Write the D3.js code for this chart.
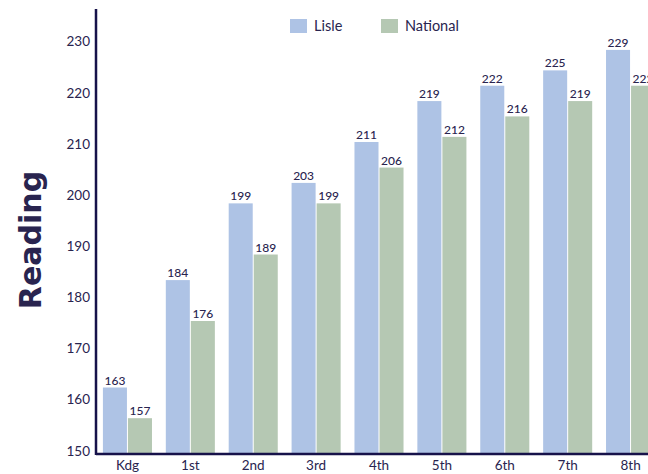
<!DOCTYPE html>
<html>
<head>
<meta charset="utf-8">
<script src="https://cdn.jsdelivr.net/npm/d3@7"></script>
<style>
	body { margin: 0; background: #fff; }
	text { font-family: Lato, "Open Sans", sans-serif; fill: #29244f; }
</style>
</head>
<body>
<script>
var grades = ["Kdg", "1st", "2nd", "3rd", "4th", "5th", "6th", "7th", "8th"];
var series = ["Lisle", "National"];
var lisle = [163, 184, 199, 203, 211, 219, 222, 225, 229];
var national = [157, 176, 189, 199, 206, 212, 216, 219, 222];
var yTicks = [150, 160, 170, 180, 190, 200, 210, 220, 230];
var colors = ["#aec3e5", "#b5c8b3"];

function main(){
	var w = 648;
	var h = 474;
	var left = 96;
	var bottom = 454;

	var svg = d3.select("body")
				.append("svg")
				.attr("width", w)
				.attr("height", h);

	var yScale = d3.scaleLinear()
					.domain([150, 237])
					.range([bottom, 9]);

	var xScale = d3.scaleBand()
					.domain(grades)
					.range([left, 662])
					.paddingInner(0.22)
					.paddingOuter(0.11);

	var xInner = d3.scaleBand()
					.domain(series)
					.range([0, xScale.bandwidth()])
					.paddingInner(0.04);

	var rows = grades.map(function(g, i){
		return {grade: g, values: [lisle[i], national[i]]};
	});

	var groups = svg.selectAll(".grp")
			.data(rows)
			.enter()
			.append("g")
			.attr("class", "grp")
			.attr("transform", function(d){ return "translate(" + xScale(d.grade) + ",0)"; });

	var bars = groups.selectAll("g")
			.data(function(d){ return d.values.map(function(v, j){ return {s: series[j], v: v, j: j}; }); })
			.enter()
			.append("g");

	bars.append("rect")
			.attr("x", function(d){ return xInner(d.s); })
			.attr("y", function(d){ return yScale(d.v); })
			.attr("width", xInner.bandwidth())
			.attr("height", function(d){ return bottom - yScale(d.v); })
			.attr("fill", function(d){ return colors[d.j]; });

	bars.append("text")
			.attr("x", function(d){ return xInner(d.s) + xInner.bandwidth()/2; })
			.attr("y", function(d){ return yScale(d.v) - 3; })
			.attr("text-anchor", "middle")
			.attr("font-size", 12)
			.attr("font-weight", 500)
			.text(function(d){ return d.v; });

	// y axis
	var yAxis = d3.axisLeft(yScale)
					.tickValues(yTicks)
					.tickSize(0)
					.tickPadding(6);

	var ya = svg.append("g")
			.attr("transform", "translate(" + left + ",0)")
			.call(yAxis);
	ya.select(".domain").remove();
	ya.selectAll("text")
			.attr("font-size", 13.5)
			.attr("dy", "0.08em")
			.style("font-family", "Lato, sans-serif")
			.attr("fill", "#29244f");

	svg.append("line")
			.attr("x1", left).attr("x2", left)
			.attr("y1", 9).attr("y2", bottom + 1)
			.attr("stroke", "#17124a")
			.attr("stroke-width", 2.5);

	// x axis
	var xAxis = d3.axisBottom(xScale)
					.tickSize(0)
					.tickPadding(6);

	var xa = svg.append("g")
			.attr("transform", "translate(0," + bottom + ")")
			.call(xAxis);
	xa.select(".domain").remove();
	xa.selectAll("text")
			.attr("font-size", 13.5)
			.style("font-family", "Lato, sans-serif")
			.attr("fill", "#29244f");

	svg.append("line")
			.attr("x1", left).attr("x2", w)
			.attr("y1", bottom).attr("y2", bottom)
			.attr("stroke", "#17124a")
			.attr("stroke-width", 2.5);

	// title
	svg.append("text")
			.attr("transform", "translate(41,240) rotate(-90)")
			.attr("text-anchor", "middle")
			.attr("font-size", 30)
			.attr("font-weight", "bold")
			.style("font-family", "'DejaVu Sans', sans-serif")
			.attr("fill", "#1c1748")
			.text("Reading");

	// legend
	var legX = [290, 381];
	var leg = svg.selectAll(".leg")
			.data(series)
			.enter()
			.append("g")
			.attr("class", "leg")
			.attr("transform", function(d, i){ return "translate(" + legX[i] + ",19)"; });

	leg.append("rect")
			.attr("width", 17)
			.attr("height", 14)
			.attr("fill", function(d, i){ return colors[i]; });

	leg.append("text")
			.attr("x", 24)
			.attr("y", 7)
			.attr("dy", "0.35em")
			.attr("font-size", 14.5)
			.text(function(d){ return d; });
}

main();
</script>
</body>
</html>
